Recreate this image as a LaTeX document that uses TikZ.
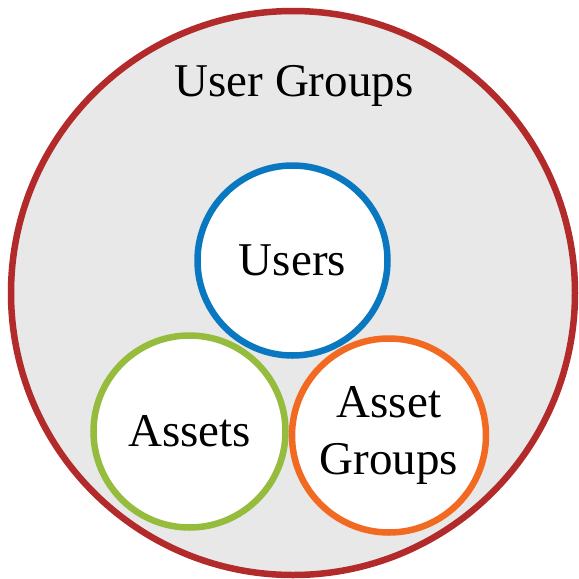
\documentclass[tikz,border=0pt]{standalone}
\usepackage{fontspec}
\setmainfont{Liberation Serif}
\usetikzlibrary{positioning}
\definecolor{groupred}{HTML}{B22A2A}
\definecolor{groupgray}{HTML}{E8E8E8}
\definecolor{userblue}{HTML}{0A78C0}
\definecolor{assetgreen}{HTML}{95BC3C}
\definecolor{agorange}{HTML}{F26A22}
\tikzset{
    outer/.style = {draw=groupred, fill=groupgray, circle, line width=6.5pt,
        minimum size=564pt, inner sep=0pt},
    set/.style = {circle, fill=white, line width=6.5pt, inner sep=0pt,
        align=center, font=\fontsize{47}{57}\selectfont},
    title/.style = {font=\fontsize{47}{57}\selectfont}
}

\begin{document}
\begin{tikzpicture}[x=1pt,y=-1pt]
    \useasboundingbox (0,0) rectangle (579,579);
    \node [outer] (ug) at (293,293) {};
    \node [title] (ugl) at (294,86) {User Groups};
    \node [set, draw=userblue, minimum size=190pt] (u) at (292.5,260.5) {Users};
    \node [set, draw=assetgreen, minimum size=192pt] (a) at (189.5,431.5) {Assets};
    \node [set, draw=agorange, minimum size=194pt] (ag) at (389,435.5) {Asset\\Groups};
\end{tikzpicture}
\end{document}
